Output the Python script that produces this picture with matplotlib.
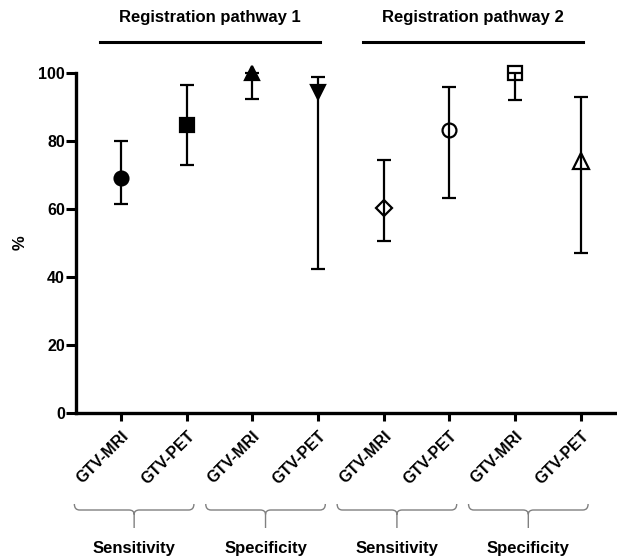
import numpy as np
import matplotlib
matplotlib.use("Agg")
import matplotlib.pyplot as plt
from matplotlib.path import Path
from matplotlib.patches import PathPatch
from matplotlib.transforms import blended_transform_factory

plt.rcParams['font.family'] = ['Liberation Sans', 'DejaVu Sans']
plt.rcParams['font.weight'] = 'bold'

# Data
labels = ['GTV-MRI', 'GTV-PET', 'GTV-MRI', 'GTV-PET',
          'GTV-MRI', 'GTV-PET', 'GTV-MRI', 'GTV-PET']
values = [69.0, 84.6, 100.0, 94.3, 60.1, 83.1, 100.0, 73.9]
lower = [61.4, 72.9, 92.2, 42.3, 50.6, 63.2, 92.0, 47.0]
upper = [79.9, 96.4, 100.0, 98.7, 74.4, 95.9, 100.0, 92.8]
groups = ['Sensitivity', 'Specificity', 'Sensitivity', 'Specificity']
pathways = ['Registration pathway 1', 'Registration pathway 2']

markers = ['o', 's', '^', 'v', 'D', 'o', 's', '^']
filled = [True, True, True, True, False, False, False, False]
msizes = [10, 10, 9.5, 9.5, 8, 10, 10, 11]

x = np.arange(1, len(values) + 1)

fig = plt.figure(figsize=(6.17, 5.59), dpi=100)
ax = fig.add_axes([76 / 617, 1 - 412.7 / 559, 1 - 76 / 617, 340 / 559])

for i in range(len(values)):
    yerr = [[values[i] - lower[i]], [upper[i] - values[i]]]
    ax.errorbar(x[i], values[i], yerr=yerr, fmt='none', ecolor='black',
                elinewidth=1.6, capsize=5, capthick=1.6, clip_on=False, zorder=2)
    ax.plot(x[i], values[i], marker=markers[i], markersize=msizes[i],
            markerfacecolor='black' if filled[i] else 'none',
            markeredgecolor='black', markeredgewidth=1.6,
            linestyle='none', clip_on=False, zorder=3)

ax.set_xlim(0.315, 8.55)
ax.set_ylim(0, 100)
ax.set_yticks([0, 20, 40, 60, 80, 100])
ax.set_xticks(x)
ax.set_xticklabels(labels, rotation=45, ha='right', rotation_mode='anchor',
                   fontsize=11.5, fontweight='bold')
ax.tick_params(axis='y', labelsize=11.5, width=2.2, length=7, pad=1)
ax.tick_params(axis='x', width=2.2, length=6, pad=5)
for lab in ax.get_yticklabels():
    lab.set_fontweight('bold')

ax.spines['top'].set_visible(False)
ax.spines['right'].set_visible(False)
ax.spines['left'].set_linewidth(2.4)
ax.spines['bottom'].set_linewidth(2.4)
fig.text(20 / 617, 1 - 243 / 559, '%', rotation=90, ha='center', va='center',
         fontsize=12, fontweight='bold')

trans = blended_transform_factory(ax.transData, fig.transFigure)

# pathway headers with lines
line_y = 1 - 41.7 / 559
text_y = 1 - 17.3 / 559
for k, name in enumerate(pathways):
    x0 = x[4 * k] - 0.32
    x1 = x[4 * k + 3] + 0.03
    ax.plot([x0, x1], [line_y, line_y], color='black', linewidth=2.2,
            transform=trans, clip_on=False)
    ax.text((x0 + x1) / 2, text_y, name, transform=trans, ha='center',
            va='center', fontsize=12, fontweight='bold')

# braces under tick labels
y_top = 1 - 504 / 559
y_mid = 1 - 510 / 559
y_bot = 1 - 528 / 559
for k, name in enumerate(groups):
    p = x[2 * k]
    xl = p - 0.71
    xr = p + 1.11
    xc = (xl + xr) / 2
    r = 0.08
    verts = [(xl, y_top), (xl, y_mid), (xl + r, y_mid),
             (xc - r, y_mid),
             (xc, y_mid), (xc, y_mid - 0.008),
             (xc, y_bot),
             (xc, y_mid - 0.008), (xc, y_mid), (xc + r, y_mid),
             (xr - r, y_mid),
             (xr, y_mid), (xr, y_top)]
    codes = [Path.MOVETO, Path.CURVE3, Path.CURVE3,
             Path.LINETO,
             Path.CURVE3, Path.CURVE3,
             Path.LINETO,
             Path.MOVETO, Path.CURVE3, Path.CURVE3,
             Path.LINETO,
             Path.CURVE3, Path.CURVE3]
    patch = PathPatch(Path(verts, codes), facecolor='none', edgecolor='#808080',
                      linewidth=1.0, transform=trans, clip_on=False)
    ax.add_patch(patch)
    ax.text(xc, 1 - 548 / 559, name, transform=trans, ha='center', va='center',
            fontsize=12, fontweight='bold')

fig.savefig('out.png', dpi=100)
